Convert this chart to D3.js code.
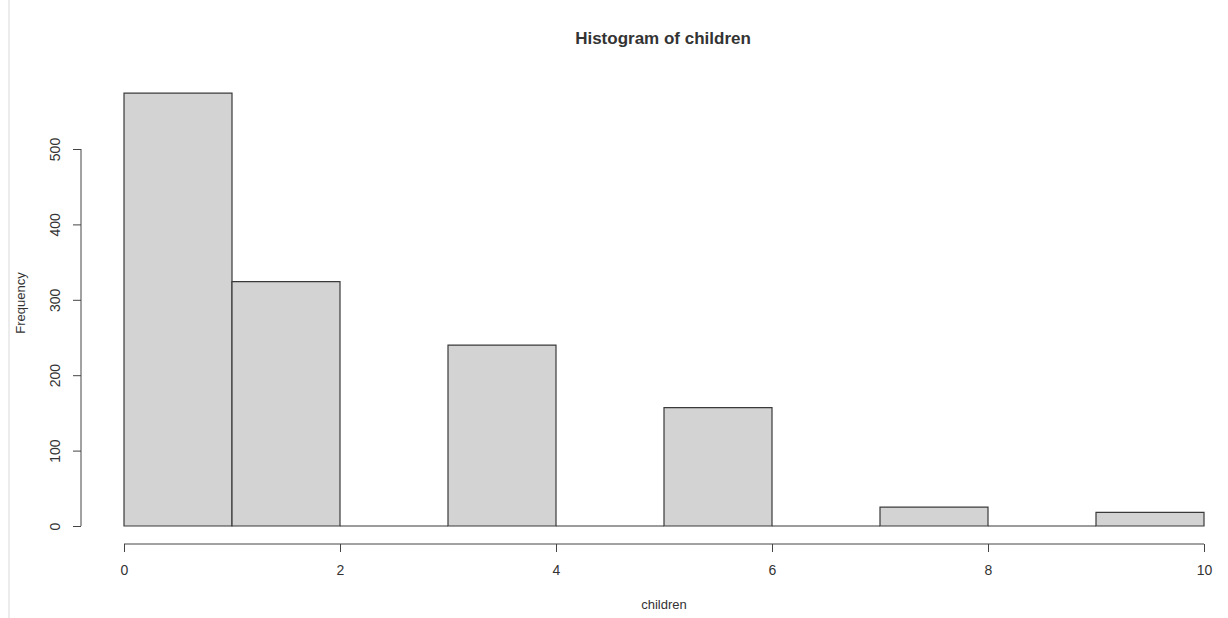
<!DOCTYPE html>
<html>
<head>
<meta charset="utf-8">
<script src="https://cdn.jsdelivr.net/npm/d3@7"></script>
<style>
  html, body { margin: 0; padding: 0; background: #fff; }
  svg { display: block; }
  text { font-family: "Liberation Sans", Arial, sans-serif; fill: #333; }
</style>
</head>
<body>
<svg id="chart" width="1228" height="618"></svg>
<script>
// Data
const binEdges = [0, 1, 2, 3, 4, 5, 6, 7, 8, 9, 10];
const frequencies = [574, 324, 0, 240, 0, 157, 0, 25, 0, 18];
const xTicks = [0, 2, 4, 6, 8, 10];
const yTicks = [0, 100, 200, 300, 400, 500];
const titleText = "Histogram of children";
const xLabel = "children";
const yLabel = "Frequency";

const svg = d3.select("#chart");

// faint left border as in the screenshot
svg.append("line")
  .attr("x1", 9).attr("x2", 9).attr("y1", 0).attr("y2", 618)
  .attr("stroke", "#ececec").attr("stroke-width", 2);

const x = d3.scaleLinear().domain([0, 10]).range([124, 1204]);
const y = d3.scaleLinear().domain([0, 500]).range([526, 149]);

const bins = frequencies.map((f, i) => ({ x0: binEdges[i], x1: binEdges[i + 1], f }));

// bars (paths so zero-height bins still draw a line)
svg.append("g").selectAll("path")
  .data(bins)
  .join("path")
  .attr("d", d => {
    const x0 = x(d.x0), x1 = x(d.x1), y0 = y(0), y1 = y(d.f);
    return `M${x0},${y0}H${x1}V${y1}H${x0}Z`;
  })
  .attr("fill", "#d3d3d3")
  .attr("stroke", "#3a3a3a")
  .attr("stroke-width", 1.2);

// X axis (R style: offset below plot)
const xAxisG = svg.append("g").attr("transform", "translate(0,544)");
xAxisG.call(d3.axisBottom(x).tickValues(xTicks).tickSize(8).tickSizeOuter(0).tickPadding(13).tickFormat(d3.format("d")));
xAxisG.select(".domain").attr("stroke", "#444").attr("d", `M${x(0)},0H${x(10)}`);
xAxisG.selectAll(".tick line").attr("stroke", "#444");
xAxisG.selectAll(".tick text").attr("font-size", 14).attr("fill", "#333")
  .attr("font-family", "'Liberation Sans', Arial, sans-serif");

// Y axis
const yAxisG = svg.append("g").attr("transform", "translate(81,0)");
yAxisG.call(d3.axisLeft(y).tickValues(yTicks).tickSize(8).tickSizeOuter(0).tickFormat(d3.format("d")));
yAxisG.select(".domain").attr("stroke", "#444").attr("d", `M0,${y(0)}V${y(500)}`);
yAxisG.selectAll(".tick line").attr("stroke", "#444");
yAxisG.selectAll(".tick text")
  .attr("font-size", 14).attr("fill", "#333")
  .attr("font-family", "'Liberation Sans', Arial, sans-serif")
  .attr("x", null).attr("dy", null)
  .attr("text-anchor", "middle")
  .attr("transform", "translate(-26,0) rotate(-90)")
  .attr("dominant-baseline", "central");

// Title
svg.append("text")
  .attr("x", 663).attr("y", 44)
  .attr("text-anchor", "middle")
  .attr("font-size", 17).attr("font-weight", "bold").attr("fill", "#111")
  .text(titleText);

// X label
svg.append("text")
  .attr("x", (x(0) + x(10)) / 2).attr("y", 609)
  .attr("text-anchor", "middle")
  .attr("font-size", 13)
  .text(xLabel);

// Y label
svg.append("text")
  .attr("transform", "translate(25,303) rotate(-90)")
  .attr("text-anchor", "middle")
  .attr("font-size", 13)
  .text(yLabel);
</script>
</body>
</html>
